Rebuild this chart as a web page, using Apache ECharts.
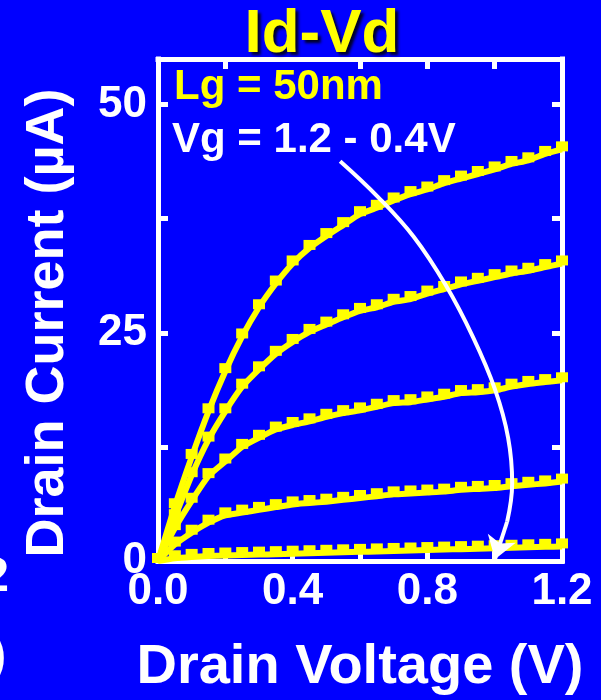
<!DOCTYPE html>
<html>
<head>
<meta charset="utf-8">
<script src="https://cdn.jsdelivr.net/npm/echarts@6/dist/echarts.min.js"></script>
<style>
  html, body { margin: 0; padding: 0; background: #0000ff; }
  #chart { width: 601px; height: 700px; }
</style>
</head>
<body>
<div id="chart"></div>
<script>
// Drain voltage sweep (V)
const drainVoltage = [0, 0.05, 0.10, 0.15, 0.20, 0.25, 0.30, 0.35, 0.40, 0.45, 0.50, 0.55, 0.60,
                      0.65, 0.70, 0.75, 0.80, 0.85, 0.90, 0.95, 1.00, 1.05, 1.10, 1.15, 1.20];

// Drain current (uA) for each gate voltage
const idVg12 = [0, 6.0, 11.4, 16.4, 20.8, 24.6, 27.8, 30.4, 32.6, 34.3, 35.6, 36.8, 38.0,
                38.7, 39.5, 40.2, 40.7, 41.4, 41.9, 42.4, 42.9, 43.5, 43.9, 44.6, 45.1];
const idVg10 = [0, 4.8, 9.4, 13.3, 16.4, 19.1, 21.0, 22.7, 24.0, 25.1, 25.9, 26.7, 27.4,
                27.8, 28.4, 28.7, 29.3, 29.8, 30.3, 30.7, 31.1, 31.5, 31.8, 32.2, 32.6];
const idVg08 = [0, 3.6, 6.6, 9.3, 10.9, 12.5, 13.5, 14.4, 14.9, 15.3, 15.8, 16.2, 16.5,
                16.9, 17.3, 17.4, 17.7, 18.0, 18.4, 18.5, 18.7, 19.1, 19.4, 19.6, 19.8];
const idVg06 = [0, 1.8, 3.1, 4.2, 5.0, 5.3, 5.6, 5.9, 6.2, 6.35, 6.5, 6.7, 6.9,
                7.1, 7.3, 7.4, 7.5, 7.6, 7.8, 7.9, 8.0, 8.2, 8.35, 8.5, 8.7];
const idVg04 = [0, 0.3, 0.45, 0.55, 0.6, 0.65, 0.7, 0.75, 0.8, 0.85, 0.9, 0.95, 1.0,
                1.05, 1.1, 1.15, 1.2, 1.25, 1.3, 1.35, 1.4, 1.45, 1.5, 1.55, 1.6];
const curves = [idVg12, idVg10, idVg08, idVg06, idVg04];

// Sweep-direction arrow (V, uA) and its head
const arrowV = [0.541, 0.653, 0.760, 0.855, 0.936, 1.001, 1.040, 1.052, 1.037];
const arrowI = [43.8, 39.9, 35.5, 30.2, 24.5, 18.8, 13.5, 8.5, 4.3];
const arrowHead = [[1.037, 4.3], [1.001, 0.2]];

// Axis ticks and labels
const xTickLabels = [0, 0.4, 0.8, 1.2];
const xTicksBottom = [0.2, 0.4, 0.6, 0.8, 1.0];
const xTicksTop = [0.2, 0.6, 0.8, 1.0];
const yTickLabels = [0, 25, 50];
const yTicks = [12.5, 25, 37.5, 50];

const FONT = '"Liberation Sans", Arial, Helvetica, sans-serif';
const WHITE = '#ffffff';
const YELLOW = '#ffff00';

function frameAxis(extra) {
  return Object.assign({
    type: 'value',
    splitLine: { show: false },
    axisLine: { show: true, onZero: false, lineStyle: { color: WHITE, width: 5, cap: 'square' } },
    axisTick: { show: true, inside: true, length: 10, lineStyle: { color: WHITE, width: 5 } },
    axisLabel: { show: false }
  }, extra);
}

const labelStyle = { show: true, color: WHITE, fontSize: 44, fontWeight: 'bold', fontFamily: FONT };

const chart = echarts.init(document.getElementById('chart'), null, { renderer: 'canvas' });

const curveSeries = curves.map(vals => ({
  type: 'line',
  data: drainVoltage.map((v, i) => [v, vals[i]]),
  smooth: 0.2,
  symbol: 'rect',
  symbolSize: [12, 10],
  symbolOffset: [0, -3],
  showSymbol: true,
  showAllSymbol: true,
  lineStyle: { color: YELLOW, width: 6 },
  itemStyle: { color: YELLOW },
  z: 2,
  silent: true
}));

chart.setOption({
  backgroundColor: '#0000ff',
  animation: false,
  grid: { left: 158, right: 39, top: 59, bottom: 139, containLabel: false, outerBoundsMode: 'none' },
  xAxis: [
    frameAxis({
      position: 'bottom', min: 0, max: 1.2,
      axisTick: { show: true, inside: true, length: 10, customValues: xTicksBottom, lineStyle: { color: WHITE, width: 5 } },
      axisLabel: Object.assign({}, labelStyle, { margin: 9, customValues: xTickLabels, formatter: v => v.toFixed(1) }),
      name: 'Drain Voltage (V)', nameLocation: 'middle', nameGap: 79,
      nameTextStyle: { color: WHITE, fontSize: 56, fontWeight: 'bold', fontFamily: FONT }
    }),
    frameAxis({
      position: 'top', min: 0, max: 1.2,
      axisTick: { show: true, inside: true, length: 10, customValues: xTicksTop, lineStyle: { color: WHITE, width: 5 } }
    })
  ],
  yAxis: [
    frameAxis({
      position: 'left', min: 0, max: 55,
      axisTick: { show: true, inside: true, length: 10, customValues: yTicks, lineStyle: { color: WHITE, width: 5 } },
      axisLabel: Object.assign({}, labelStyle, { margin: 11, customValues: yTickLabels, formatter: v => String(Math.round(v)) }),
      name: 'Drain Current (\u00B5A)', nameLocation: 'middle', nameGap: 83, nameRotate: 90,
      nameTextStyle: { color: WHITE, fontSize: 54, fontWeight: 'bold', fontFamily: FONT, padding: [0, 26, 0, 0] }
    }),
    frameAxis({
      position: 'right', min: 0, max: 55,
      axisTick: { show: true, inside: true, length: 10, customValues: yTicks, lineStyle: { color: WHITE, width: 5 } }
    })
  ],
  series: curveSeries.concat([
    {
      type: 'line',
      data: arrowV.map((v, i) => [v, arrowI[i]]),
      smooth: 0.4,
      showSymbol: false,
      symbol: 'none',
      lineStyle: { color: WHITE, width: 4 },
      z: 3,
      silent: true
    },
    {
      type: 'lines',
      coordinateSystem: 'cartesian2d',
      data: [{ coords: arrowHead }],
      symbol: ['none', 'arrow'],
      symbolSize: 22,
      lineStyle: { color: WHITE, width: 4, opacity: 1, curveness: 0 },
      z: 3,
      silent: true
    }
  ]),
  graphic: [
    {
      type: 'text', x: 322, y: 35, z: 10,
      style: {
        text: 'Id-Vd', fill: YELLOW, font: 'bold 62px ' + FONT,
        align: 'center', verticalAlign: 'middle', textAlign: 'center', textVerticalAlign: 'middle',
        textShadowColor: 'rgba(0,0,0,0.85)', textShadowBlur: 3, textShadowOffsetX: 3, textShadowOffsetY: 3
      }
    },
    {
      type: 'text', x: 174, y: 87, z: 10,
      style: {
        text: 'Lg = 50nm', fill: YELLOW, font: 'bold 42px ' + FONT,
        align: 'left', verticalAlign: 'middle', textAlign: 'left', textVerticalAlign: 'middle'
      }
    },
    {
      type: 'text', x: 172, y: 140, z: 10,
      style: {
        text: 'Vg = 1.2 - 0.4V', fill: WHITE, font: 'bold 42px ' + FONT,
        align: 'left', verticalAlign: 'middle', textAlign: 'left', textVerticalAlign: 'middle'
      }
    },
    {
      type: 'text', x: 9, y: 578, z: 10,
      style: {
        text: '2', fill: WHITE, font: 'bold 48px ' + FONT,
        align: 'right', verticalAlign: 'middle', textAlign: 'right', textVerticalAlign: 'middle'
      }
    },
    {
      type: 'text', x: 6, y: 657, z: 10,
      style: {
        text: ')', fill: WHITE, font: 'bold 46px ' + FONT,
        align: 'right', verticalAlign: 'middle', textAlign: 'right', textVerticalAlign: 'middle'
      }
    }
  ]
});
</script>
</body>
</html>
